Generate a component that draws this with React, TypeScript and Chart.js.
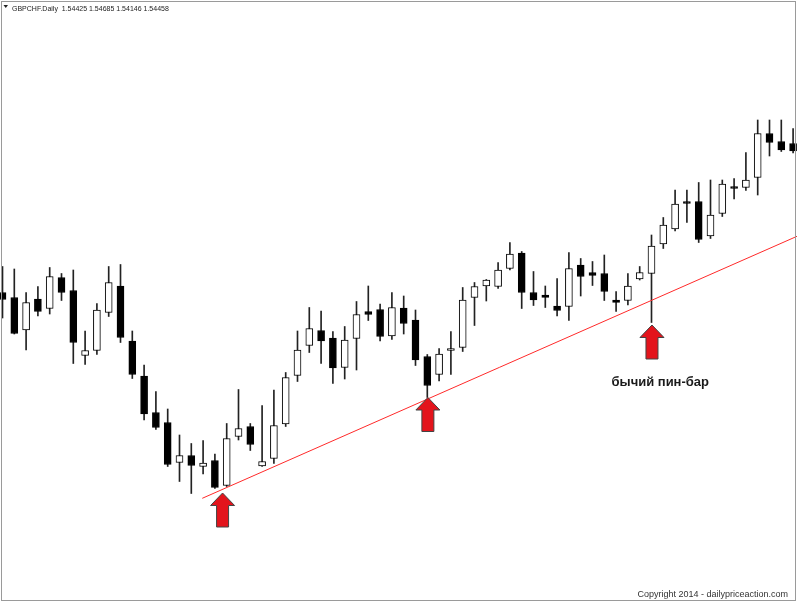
import React, { useEffect, useRef } from "react";
import { Chart, registerables } from "chart.js";

Chart.register(...registerables);

// GBPCHF daily candles (left to right)
const openPrices = [
  1.5140, 1.5130, 1.5065, 1.5127, 1.5108, 1.5170, 1.5144, 1.5014, 1.5024, 1.5100,
  1.5153, 1.5043, 1.4973, 1.4900, 1.4880, 1.4800, 1.4814, 1.4792, 1.4804, 1.4754,
  1.4852, 1.4872, 1.4793, 1.4808, 1.4877, 1.4974, 1.5034, 1.5064, 1.5049, 1.4990,
  1.5048, 1.5102, 1.5106, 1.5053, 1.5109, 1.5085, 1.5012, 1.4976, 1.5024, 1.5030,
  1.5130, 1.5153, 1.5152, 1.5188, 1.5219, 1.5140, 1.5135, 1.5113, 1.5112, 1.5195,
  1.5180, 1.5178, 1.5125, 1.5124, 1.5167, 1.5178, 1.5237, 1.5267, 1.5322, 1.5322,
  1.5253, 1.5298, 1.5352, 1.5350, 1.5370, 1.5458, 1.5442, 1.5438,
];
const highPrices = [
  1.5192, 1.5187, 1.5140, 1.5152, 1.5190, 1.5178, 1.5185, 1.5063, 1.5118, 1.5192,
  1.5196, 1.5063, 1.4995, 1.4942, 1.4907, 1.4855, 1.4838, 1.4844, 1.4817, 1.4878,
  1.4946, 1.4878, 1.4914, 1.4945, 1.4980, 1.5063, 1.5110, 1.5103, 1.5062, 1.5072,
  1.5122, 1.5153, 1.5117, 1.5140, 1.5133, 1.5105, 1.5016, 1.5028, 1.5062, 1.5150,
  1.5160, 1.5166, 1.5200, 1.5240, 1.5222, 1.5182, 1.5153, 1.5168, 1.5220, 1.5208,
  1.5202, 1.5215, 1.5142, 1.5178, 1.5192, 1.5255, 1.5290, 1.5345, 1.5345, 1.5360,
  1.5365, 1.5365, 1.5368, 1.5420, 1.5485, 1.5485, 1.5485, 1.5468,
];
const lowPrices = [
  1.5089, 1.5057, 1.5025, 1.5093, 1.5097, 1.5124, 1.4998, 1.4996, 1.5016, 1.5092,
  1.5040, 1.4968, 1.4885, 1.4866, 1.4792, 1.4762, 1.4738, 1.4777, 1.4748, 1.4752,
  1.4845, 1.4824, 1.4792, 1.4798, 1.4872, 1.4962, 1.5020, 1.4998, 1.4958, 1.4967,
  1.4985, 1.5084, 1.5043, 1.5046, 1.5057, 1.4994, 1.4930, 1.4963, 1.4976, 1.5022,
  1.5074, 1.5123, 1.5148, 1.5185, 1.5108, 1.5114, 1.5110, 1.5093, 1.5084, 1.5133,
  1.5154, 1.5124, 1.5102, 1.5115, 1.5165, 1.5080, 1.5228, 1.5263, 1.5280, 1.5240,
  1.5248, 1.5292, 1.5327, 1.5344, 1.5335, 1.5413, 1.5422, 1.5419,
];
const closePrices = [
  1.5126, 1.5058, 1.5120, 1.5102, 1.5172, 1.5140, 1.5040, 1.5024, 1.5105, 1.5160,
  1.5050, 1.4976, 1.4897, 1.4870, 1.4796, 1.4814, 1.4794, 1.4799, 1.4750, 1.4848,
  1.4868, 1.4836, 1.4802, 1.4874, 1.4970, 1.5025, 1.5068, 1.5043, 1.4989, 1.5045,
  1.5096, 1.5096, 1.5052, 1.5110, 1.5078, 1.5005, 1.4954, 1.5017, 1.5028, 1.5125,
  1.5152, 1.5165, 1.5185, 1.5217, 1.5140, 1.5125, 1.5130, 1.5104, 1.5188, 1.5172,
  1.5174, 1.5142, 1.5120, 1.5153, 1.5180, 1.5233, 1.5275, 1.5317, 1.5318, 1.5246,
  1.5295, 1.5357, 1.5348, 1.5365, 1.5458, 1.5440, 1.5425, 1.5423,
];

// Trend line endpoints: [candle index, price]
const trendStart = [16.93, 1.47284];
const trendEnd = [67.33, 1.52524];

// Red "up" arrows: candle index and price at the arrow tip
const arrowIndex = [18.65, 36.05, 55.04];
const arrowTipPrice = [1.4739, 1.4930, 1.5075];

const headerText = "GBPCHF.Daily  1.54425 1.54685 1.54146 1.54458";
const pinBarLabel = "бычий пин-бар";
const copyrightText = "Copyright 2014 - dailypriceaction.com";

const decorPlugin = {
  id: "decor",
  beforeDraw(chart: any) {
    const { ctx, width, height } = chart;
    ctx.save();
    ctx.fillStyle = "#ffffff";
    ctx.fillRect(0, 0, width, height);
    ctx.restore();
  },
  afterDraw(chart: any) {
    const { ctx } = chart;
    const xs = chart.scales.x;
    const ys = chart.scales.y;
    ctx.save();
    // arrows
    arrowIndex.forEach((idx, i) => {
      const cx = xs.getPixelForValue(idx);
      const ty = ys.getPixelForValue(arrowTipPrice[i]);
      ctx.beginPath();
      ctx.moveTo(cx, ty);
      ctx.lineTo(cx + 12, ty + 12.5);
      ctx.lineTo(cx + 6, ty + 12.5);
      ctx.lineTo(cx + 6, ty + 34);
      ctx.lineTo(cx - 6, ty + 34);
      ctx.lineTo(cx - 6, ty + 12.5);
      ctx.lineTo(cx - 12, ty + 12.5);
      ctx.closePath();
      ctx.fillStyle = "#e3141c";
      ctx.fill();
      ctx.lineWidth = 1;
      ctx.strokeStyle = "#444444";
      ctx.stroke();
    });
    // label
    ctx.fillStyle = "#1a1a1a";
    ctx.font = "bold 13px 'Liberation Sans', Arial, sans-serif";
    ctx.textBaseline = "alphabetic";
    ctx.textAlign = "left";
    ctx.fillText(pinBarLabel, 611.5, 386);
    // header
    ctx.fillStyle = "#222222";
    ctx.beginPath();
    ctx.moveTo(3.5, 5);
    ctx.lineTo(8, 5);
    ctx.lineTo(5.75, 8);
    ctx.closePath();
    ctx.fill();
    ctx.font = "7px 'Liberation Sans', Arial, sans-serif";
    ctx.fillText(headerText, 12, 11);
    // copyright
    ctx.fillStyle = "#333333";
    ctx.font = "9px 'Liberation Sans', Arial, sans-serif";
    ctx.textAlign = "right";
    ctx.fillText(copyrightText, 788, 597);
    // frame
    ctx.strokeStyle = "#9a9a9a";
    ctx.lineWidth = 1;
    ctx.strokeRect(1.5, 1.5, 794, 599);
    ctx.restore();
  },
};

export default function App() {
  const canvasRef = useRef<HTMLCanvasElement | null>(null);

  useEffect(() => {
    const canvas = canvasRef.current;
    if (!canvas) return;
    const wicks = highPrices.map((h, i) => ({ x: i, y: [lowPrices[i], h] }));
    const bodies = openPrices.map((o, i) => ({ x: i, y: [o, closePrices[i]] }));
    const bodyColors = openPrices.map((o, i) => (closePrices[i] >= o ? "#ffffff" : "#000000"));

    const chart = new Chart(canvas, {
      type: "bar",
      data: {
        datasets: [
          {
            type: "line",
            data: [
              { x: trendStart[0], y: trendStart[1] },
              { x: trendEnd[0], y: trendEnd[1] },
            ],
            borderColor: "#ff2a2a",
            borderWidth: 1,
            pointRadius: 0,
            fill: false,
            order: 0,
          } as any,
          {
            data: bodies as any,
            backgroundColor: bodyColors,
            borderColor: "#000000",
            borderWidth: 1,
            borderSkipped: false,
            barThickness: 7,
            grouped: false,
            order: 1,
          } as any,
          {
            data: wicks as any,
            backgroundColor: "#222222",
            borderWidth: 0,
            barThickness: 1,
            grouped: false,
            order: 2,
          } as any,
        ],
      },
      options: {
        animation: false,
        responsive: false,
        maintainAspectRatio: false,
        layout: { padding: 0 },
        plugins: {
          legend: { display: false },
          tooltip: { enabled: false },
          title: { display: false },
        },
        scales: {
          x: {
            type: "linear",
            display: false,
            min: -0.2119,
            max: 67.585,
            offset: false,
          },
          y: {
            display: false,
            min: 1.4517,
            max: 1.5725,
          },
        },
      },
      plugins: [decorPlugin],
    });
    return () => chart.destroy();
  }, []);

  return (
    <div style={{ position: "absolute", left: 0, top: 0, width: 800, height: 604 }}>
      <canvas ref={canvasRef} width={800} height={604} style={{ width: 800, height: 604, display: "block" }} />
    </div>
  );
}
